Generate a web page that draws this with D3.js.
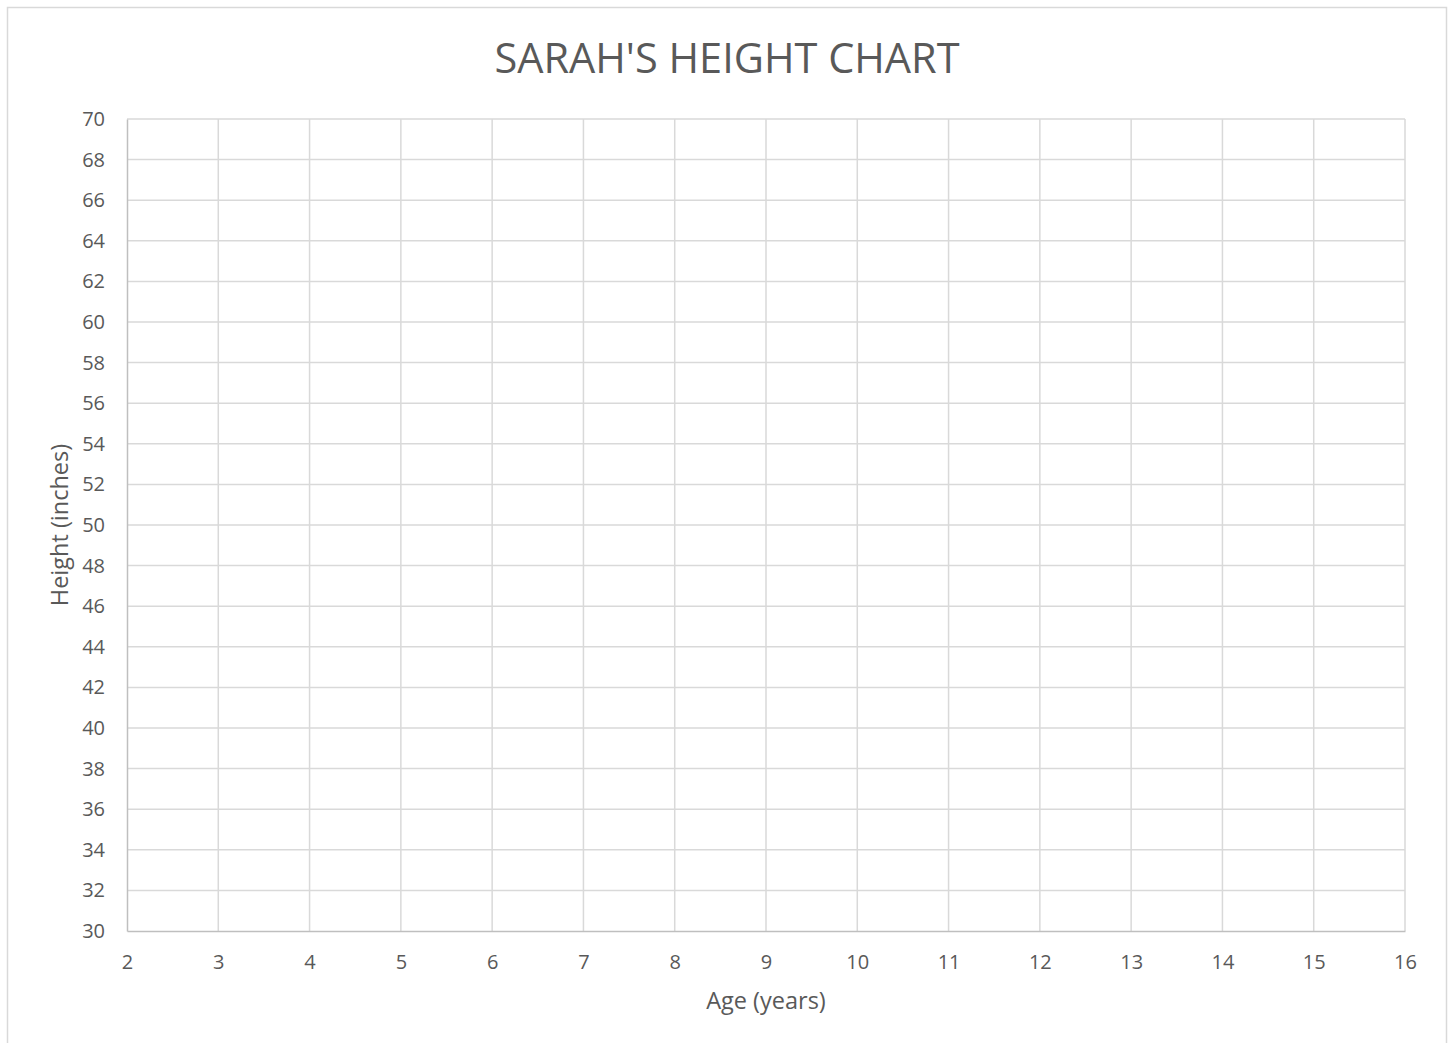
<!DOCTYPE html>
<html>
<head>
<meta charset="utf-8">
<script src="https://cdn.jsdelivr.net/npm/d3@7"></script>
<style>
  html, body { margin: 0; padding: 0; background: #fff; }
  svg { display: block; }
  text { font-family: "Open Sans", "Noto Sans", sans-serif; fill: #595959; }
</style>
</head>
<body>
<svg id="chart" width="1450" height="1043"></svg>
<script>
// ---- data ----
const title = "SARAH'S HEIGHT CHART";
const xLabel = "Age (years)";
const yLabel = "Height (inches)";
const xDomain = [2, 16];
const yDomain = [30, 70];
const xTicks = [2, 3, 4, 5, 6, 7, 8, 9, 10, 11, 12, 13, 14, 15, 16];
const yTicks = [30, 32, 34, 36, 38, 40, 42, 44, 46, 48, 50, 52, 54, 56, 58, 60, 62, 64, 66, 68, 70];
const ages = [];     // no recorded points in the chart
const heights = [];

// ---- layout ----
const svg = d3.select("#chart");
const m = { left: 127, right: 1405, top: 119, bottom: 931 };

// outer frame
svg.append("rect")
  .attr("x", 7.5).attr("y", 7.5)
  .attr("width", 1439).attr("height", 1045)
  .attr("fill", "#fff").attr("stroke", "#d9d9d9").attr("stroke-width", 1.5);

const x = d3.scaleLinear().domain(xDomain).range([m.left, m.right]);
const y = d3.scaleLinear().domain(yDomain).range([m.bottom, m.top]);

// gridlines
const grid = svg.append("g").attr("stroke", "#d9d9d9").attr("stroke-width", 1.5);
grid.selectAll("line.h").data(yTicks.slice(1)).join("line")
  .attr("x1", m.left).attr("x2", m.right)
  .attr("y1", d => y(d)).attr("y2", d => y(d));
grid.selectAll("line.v").data(xTicks.slice(1)).join("line")
  .attr("y1", m.top).attr("y2", m.bottom)
  .attr("x1", d => x(d)).attr("x2", d => x(d));

// axes
const xAxis = svg.append("g")
  .attr("transform", `translate(0,${m.bottom})`)
  .call(d3.axisBottom(x).tickValues(xTicks).tickSize(0).tickPadding(24).tickFormat(d3.format("d")));
const yAxis = svg.append("g")
  .attr("transform", `translate(${m.left},0)`)
  .call(d3.axisLeft(y).tickValues(yTicks).tickSize(0).tickPadding(22).tickFormat(d3.format("d")));

[xAxis, yAxis].forEach(a => {
  a.select(".domain").attr("stroke", "#bfbfbf").attr("stroke-width", 1.5);
  a.selectAll("text").style("font-family", '"Open Sans", sans-serif')
    .style("font-size", "20px").attr("fill", "#595959");
});
xAxis.selectAll(".tick text").attr("dy", "0.71em");

// points (none in the reference)
svg.append("g").selectAll("circle").data(ages.map((a, i) => [a, heights[i]])).join("circle")
  .attr("cx", d => x(d[0])).attr("cy", d => y(d[1])).attr("r", 5).attr("fill", "#4472c4");

// title
svg.append("text")
  .attr("x", 727).attr("y", 73)
  .attr("text-anchor", "middle")
  .style("font-size", "41.5px")
  .text(title);

// axis titles
svg.append("text")
  .attr("x", (m.left + m.right) / 2).attr("y", 1009)
  .attr("text-anchor", "middle")
  .style("font-size", "23.5px")
  .text(xLabel);

svg.append("text")
  .attr("transform", `translate(68,${(m.top + m.bottom) / 2}) rotate(-90)`)
  .attr("text-anchor", "middle")
  .style("font-size", "23.5px")
  .text(yLabel);
</script>
</body>
</html>
